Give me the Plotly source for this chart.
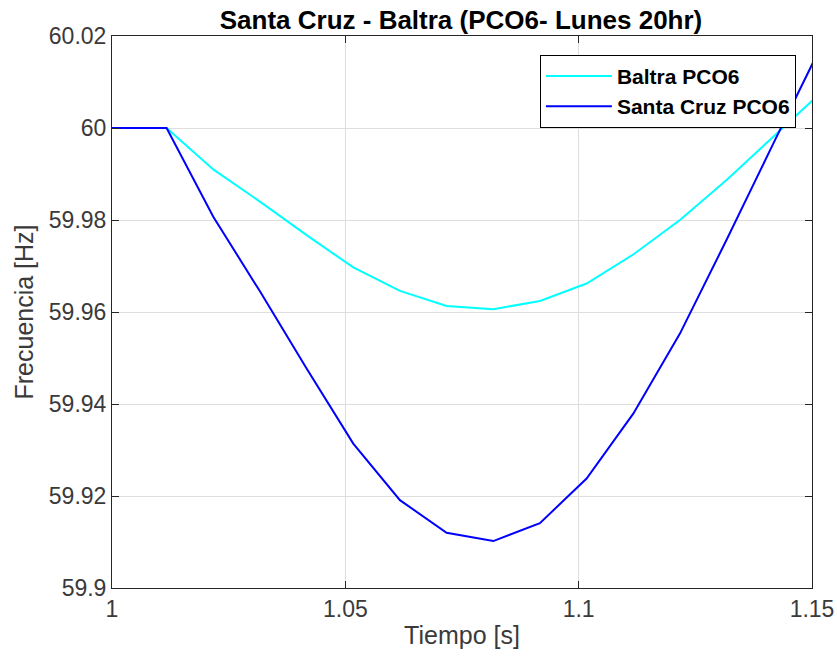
import plotly.graph_objects as go

t = [1.0, 1.0117, 1.0217, 1.0317, 1.0417, 1.0517, 1.0617, 1.0717, 1.0817,
     1.0917, 1.1017, 1.1117, 1.1217, 1.1317, 1.1417, 1.1517]
baltra = [60.0, 60.0, 59.9910, 59.9840, 59.9767, 59.9697, 59.9646, 59.9613,
          59.9606, 59.9624, 59.9662, 59.9725, 59.9800, 59.9887, 59.9981, 60.0075]
santa_cruz = [60.0, 60.0, 59.9807, 59.9645, 59.9477, 59.9314, 59.9191, 59.9120,
              59.9102, 59.9141, 59.9238, 59.9379, 59.9553, 59.9757, 59.9966, 60.0173]

x_ticks = [1.0, 1.05, 1.1, 1.15]
x_labels = ["1", "1.05", "1.1", "1.15"]
y_ticks = [59.9, 59.92, 59.94, 59.96, 59.98, 60.0, 60.02]
y_labels = ["59.9", "59.92", "59.94", "59.96", "59.98", "60", "60.02"]

FONT = "Liberation Sans, Arial, Helvetica, sans-serif"
AX = "#262626"

fig = go.Figure()
fig.add_trace(go.Scatter(x=t, y=baltra, mode="lines", name="Baltra PCO6",
                         line=dict(color="#00FFFF", width=2)))
fig.add_trace(go.Scatter(x=t, y=santa_cruz, mode="lines", name="Santa Cruz PCO6",
                         line=dict(color="#0000FF", width=2)))

axis_common = dict(
    showline=True, linecolor=AX, linewidth=1, mirror="ticks",
    ticks="inside", ticklen=7, tickcolor=AX, tickwidth=1,
    showgrid=True, gridcolor="#dedede", gridwidth=1,
    zeroline=False, tickfont=dict(family=FONT, size=23, color="#3a3a3a"),
    automargin=False,
)

fig.update_layout(
    width=837, height=658,
    margin=dict(l=112, r=25, t=36, b=70),
    paper_bgcolor="white", plot_bgcolor="white",
    title=dict(text="<b>Santa Cruz - Baltra (PCO6- Lunes 20hr)</b>",
               x=461 / 837, xanchor="center", y=1 - 20 / 658, yanchor="middle",
               font=dict(family=FONT, size=26, color="black")),
    xaxis=dict(range=[1.0, 1.15], tickvals=x_ticks, ticktext=x_labels,
               title=dict(text="Tiempo [s]", font=dict(family=FONT, size=25, color="#3a3a3a"), standoff=5),
               **axis_common),
    yaxis=dict(range=[59.9, 60.02], tickvals=y_ticks, ticktext=y_labels,
               title=dict(text="Frecuencia [Hz]", font=dict(family=FONT, size=25, color="#3a3a3a"), standoff=8),
               **axis_common),
    legend=dict(x=0.977, xanchor="right", y=0.966, yanchor="top",
                bgcolor="white", bordercolor="black", borderwidth=1,
                font=dict(family=FONT, size=21, color="black", weight="bold"),
                itemwidth=66, tracegroupgap=0),
    showlegend=True,
)

fig.write_html("out.html")
